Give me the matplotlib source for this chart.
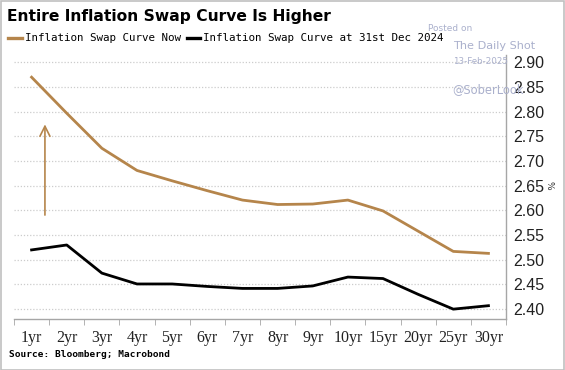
import numpy as np
import matplotlib.pyplot as plt

# Tenors and curves
tenors = ["1yr", "2yr", "3yr", "4yr", "5yr", "6yr", "7yr", "8yr", "9yr",
          "10yr", "15yr", "20yr", "25yr", "30yr"]
swap_now = [2.870, 2.797, 2.726, 2.681, 2.660, 2.640, 2.621, 2.612, 2.613,
            2.621, 2.599, 2.558, 2.517, 2.513]
swap_dec24 = [2.520, 2.530, 2.473, 2.451, 2.451, 2.446, 2.442, 2.442, 2.447,
              2.465, 2.462, 2.430, 2.400, 2.407]
y_ticks = [2.40, 2.45, 2.50, 2.55, 2.60, 2.65, 2.70, 2.75, 2.80, 2.85, 2.90]

gold = "#b5854b"
grid_col = "#cccccc"
spine_col = "#a6a6a6"

fig = plt.figure(figsize=(5.65, 3.70), dpi=100)
ax = fig.add_axes([0.0248, 0.1378, 0.8708, 0.7136])

x = np.arange(len(tenors))
ax.plot(x, swap_now, color=gold, lw=2.0, solid_joinstyle="round")
ax.plot(x, swap_dec24, color="black", lw=2.0, solid_joinstyle="round")

# upward arrow
ax.annotate("", xy=(0.38, 2.78), xytext=(0.38, 2.585),
            arrowprops=dict(arrowstyle="->", color=gold, lw=1.2,
                            mutation_scale=18))

ax.set_xlim(-0.5, len(tenors) - 0.5)
ax.set_ylim(2.38, 2.915)

ax.set_yticks(y_ticks)
ax.set_yticklabels([f"{v:.2f}" for v in y_ticks], fontsize=11.5,
                   family="Liberation Sans", color="#222222")
ax.yaxis.tick_right()
ax.tick_params(axis="y", length=0, pad=5)
ax.grid(axis="y", color=grid_col, linestyle=(0, (1, 1.5)), lw=0.9)

ax.set_xticks(x)
ax.set_xticklabels(tenors, fontsize=11.5, family="Liberation Serif", color="#222222")
ax.set_xticks(np.arange(-0.5, len(tenors)), minor=True)
ax.tick_params(axis="x", which="major", length=0, pad=8)
ax.tick_params(axis="x", which="minor", length=4, color=spine_col, direction="out")

for side in ["top", "left"]:
    ax.spines[side].set_visible(False)
for side in ["bottom", "right"]:
    ax.spines[side].set_color(spine_col)
    ax.spines[side].set_linewidth(1.0)

# small rotated percent sign
fig.text(0.972, 0.498, "%", rotation=-90, fontsize=6.5, color="#333333",
         ha="center", va="center")

# title, legend, source
fig.text(0.012, 0.955, "Entire Inflation Swap Curve Is Higher",
         fontsize=11.2, fontweight="bold", va="center", ha="left")
fig.add_artist(plt.Line2D([0.014, 0.039], [0.897, 0.897], color=gold, lw=2.4))
fig.text(0.044, 0.897, "Inflation Swap Curve Now", family="DejaVu Sans Mono",
         fontsize=7.85, va="center", ha="left")
fig.add_artist(plt.Line2D([0.331, 0.354], [0.897, 0.897], color="black", lw=2.4))
fig.text(0.360, 0.897, "Inflation Swap Curve at 31st Dec 2024",
         family="DejaVu Sans Mono", fontsize=7.85, va="center", ha="left")
fig.text(0.016, 0.042, "Source: Bloomberg; Macrobond", family="DejaVu Sans Mono",
         fontsize=6.8, fontweight="bold", va="center", ha="left")

# watermark
wm = "#aab0cc"
fig.text(0.757, 0.922, "Posted on", fontsize=6.5, color=wm, ha="left", va="center")
fig.text(0.801, 0.876, "The Daily Shot", fontsize=8.1, color=wm, ha="left", va="center")
fig.text(0.801, 0.833, "13-Feb-2025", fontsize=6.3, color=wm, ha="left", va="center")
fig.text(0.800, 0.757, "@SoberLook", fontsize=8.3, color=wm, ha="left", va="center")

# outer frame
fig.add_artist(plt.Rectangle((0.001, 0.001), 0.997, 0.997, fill=False,
                             edgecolor="#c0c0c0", lw=1.2, transform=fig.transFigure))

fig.savefig("out.png", dpi=100)
